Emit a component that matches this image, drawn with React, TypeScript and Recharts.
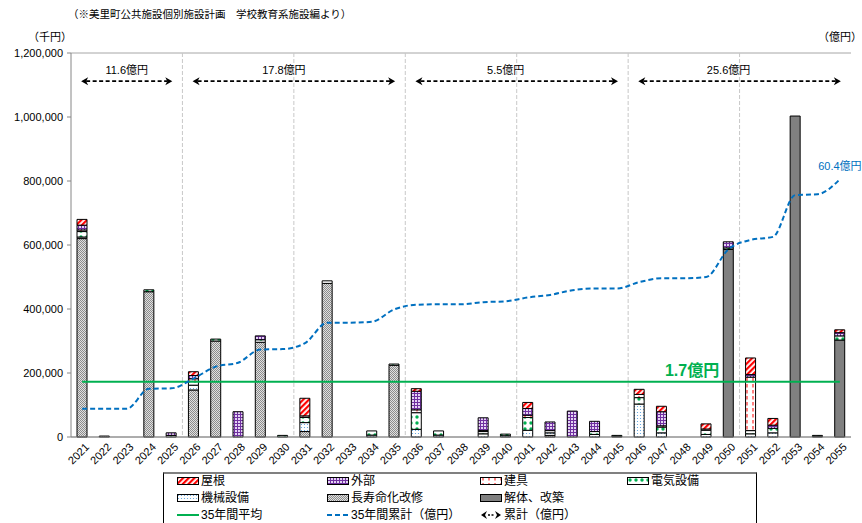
import React from 'react';
import { ComposedChart, Bar, Line, XAxis, YAxis, CartesianGrid, ReferenceLine, LabelList } from 'recharts';

const years = [
  '2021', '2022', '2023', '2024', '2025', '2026', '2027', '2028', '2029', '2030',
  '2031', '2032', '2033', '2034', '2035', '2036', '2037', '2038', '2039', '2040',
  '2041', '2042', '2043', '2044', '2045', '2046', '2047', '2048', '2049', '2050',
  '2051', '2052', '2053', '2054', '2055',
];

// 千円
const kaitai = [0, 0, 0, 0, 0, 0, 0, 0, 0, 0, 0, 0, 0, 0, 0, 0, 0, 0, 0, 0, 0, 0, 0, 0, 0, 0, 0, 0, 0, 586000, 0, 0, 1003000, 0, 303000];
const choju = [620000, 3000, 0, 454000, 0, 147000, 300000, 0, 296000, 0, 17000, 480000, 0, 0, 224000, 0, 0, 0, 0, 0, 0, 5000, 0, 0, 0, 0, 0, 0, 0, 0, 0, 0, 0, 0, 0];
const kikai = [5000, 0, 0, 0, 0, 15000, 0, 0, 0, 0, 28000, 0, 0, 6000, 0, 24000, 6000, 0, 10000, 4000, 21000, 8000, 0, 8000, 2000, 103000, 13000, 0, 8000, 0, 10000, 13000, 0, 2000, 0];
const denki = [17000, 0, 0, 6000, 5000, 12000, 6000, 0, 8000, 5000, 16000, 8000, 0, 13000, 4000, 52000, 13000, 0, 7000, 5000, 40000, 7000, 0, 9000, 3000, 20000, 18000, 0, 13000, 5000, 10000, 14000, 0, 3000, 13000];
const tategu = [5000, 0, 0, 0, 0, 8000, 0, 0, 0, 0, 5000, 0, 0, 0, 0, 9000, 0, 0, 3000, 0, 7000, 0, 0, 0, 0, 10000, 4000, 0, 4000, 0, 167000, 0, 0, 0, 0];
const gaibu = [15000, 0, 0, 0, 8000, 10000, 0, 79000, 12000, 0, 0, 0, 0, 0, 0, 58000, 0, 0, 40000, 0, 21000, 27000, 81000, 32000, 0, 0, 44000, 0, 0, 19000, 8000, 10000, 0, 0, 10000];
const yane = [18000, 0, 0, 0, 0, 12000, 0, 0, 0, 0, 55000, 0, 0, 0, 0, 8000, 0, 0, 0, 0, 19000, 0, 0, 0, 0, 16000, 17000, 0, 16000, 0, 52000, 21000, 0, 0, 9000];

// 億円
const cumulative = [6.6, 6.6, 6.6, 11.3, 11.4, 13.7, 16.5, 17.4, 20.5, 20.6, 22.0, 26.8, 26.8, 27.0, 29.9, 31.0, 31.1, 31.1, 31.6, 31.8, 32.7, 33.3, 34.4, 34.8, 34.8, 36.3, 37.2, 37.2, 37.5, 44.0, 46.2, 46.9, 56.7, 56.9, 60.4];

const average35 = 172600;
const averageLabel = '1.7億円';

const spans = [
  { from: '2021', to: '2025', label: '11.6億円' },
  { from: '2026', to: '2035', label: '17.8億円' },
  { from: '2036', to: '2045', label: '5.5億円' },
  { from: '2046', to: '2055', label: '25.6億円' },
];
const spanLabelShift = [0, -10, -11, -11];
const spanLevel = 1112000;

const leftTicks = [0, 200000, 400000, 600000, 800000, 1000000, 1200000];
const rightTicks = [0, 10, 20, 30, 40, 50, 60, 70, 80, 90];

const data = years.map((year, i) => ({
  year,
  kaitai: kaitai[i],
  choju: choju[i],
  kikai: kikai[i],
  denki: denki[i],
  tategu: tategu[i],
  gaibu: gaibu[i],
  yane: yane[i],
  cum: cumulative[i],
}));

const FONT = '"Liberation Sans", "Noto Sans CJK JP", sans-serif';
const GREEN = '#00B050';
const BLUE = '#0070C0';

function Patterns() {
  return (
    <svg width={0} height={0} style={{ position: 'absolute' }}>
      <defs>
        <pattern id="p-yane" width={4} height={4} patternUnits="userSpaceOnUse" patternTransform="rotate(45)">
          <rect width={4} height={4} fill="#fff" />
          <rect width={2.2} height={4} fill="#FF0000" />
        </pattern>
        <pattern id="p-gaibu" width={3} height={3} patternUnits="userSpaceOnUse">
          <rect width={3} height={3} fill="#E4D3F3" />
          <path d="M0 0.5H3M0.5 0V3" stroke="#7030A0" strokeWidth={1} />
        </pattern>
        <pattern id="p-tategu" width={6} height={6} patternUnits="userSpaceOnUse">
          <rect width={6} height={6} fill="#fff" />
          <path d="M3 0V3.5" stroke="#FF0000" strokeWidth={1} />
        </pattern>
        <pattern id="p-denki" width={6} height={6} patternUnits="userSpaceOnUse">
          <rect width={6} height={6} fill="#fff" />
          <circle cx={3} cy={3} r={1.7} fill={GREEN} />
        </pattern>
        <pattern id="p-kikai" width={3} height={3} patternUnits="userSpaceOnUse">
          <rect width={3} height={3} fill="#fff" />
          <circle cx={1.5} cy={1.5} r={0.6} fill="#4F9BDB" />
        </pattern>
        <pattern id="p-choju" width={2} height={2} patternUnits="userSpaceOnUse">
          <rect width={2} height={2} fill="#E0E0E0" />
          <rect width={1} height={1} fill="#8C8C8C" />
          <rect x={1} y={1} width={1} height={1} fill="#8C8C8C" />
        </pattern>
      </defs>
    </svg>
  );
}

function SpanArrow(props: any) {
  const { x1, x2, y1, label, shift } = props;
  const y = y1;
  const mid = (x1 + x2) / 2 + shift;
  return (
    <g>
      <line x1={x1 + 4} x2={x2 - 4} y1={y} y2={y} stroke="#000" strokeWidth={1.6} strokeDasharray="4 2.5" />
      <path d={`M${x1 - 1} ${y} L${x1 + 6} ${y - 4} L${x1 + 4} ${y} L${x1 + 6} ${y + 4} Z`} fill="#000" />
      <path d={`M${x2 + 1} ${y} L${x2 - 6} ${y - 4} L${x2 - 4} ${y} L${x2 - 6} ${y + 4} Z`} fill="#000" />
      <text x={mid} y={y - 7} textAnchor="middle" fontSize={11} fill="#000" fontFamily={FONT}>
        {label}
      </text>
    </g>
  );
}

function AverageLine(props: any) {
  const { x1, x2, y1 } = props;
  return (
    <g>
      <line x1={x1} x2={x2} y1={y1} y2={y1} stroke={GREEN} strokeWidth={2} />
      <text x={x1 + (x2 - x1) * 0.805} y={y1 - 6} textAnchor="middle" fontSize={16} fontWeight="bold" fill={GREEN} fontFamily={FONT}>
        {averageLabel}
      </text>
    </g>
  );
}

function YearTick(props: any) {
  const { x, y, payload } = props;
  return (
    <g transform={`translate(${x + 5},${y}) rotate(-45)`}>
      <text x={0} y={0} dy="0.35em" textAnchor="end" fontSize={11} fill="#000" fontFamily={FONT}>
        {payload.value}
      </text>
    </g>
  );
}

function Swatch({ fill, kind }: { fill?: string; kind: string }) {
  if (kind === 'avg') {
    return (
      <svg width={22} height={8}>
        <line x1={0} x2={22} y1={4} y2={4} stroke={GREEN} strokeWidth={2} />
      </svg>
    );
  }
  if (kind === 'cum') {
    return (
      <svg width={22} height={8}>
        <line x1={0} x2={22} y1={4} y2={4} stroke={BLUE} strokeWidth={2} strokeDasharray="5 3" />
      </svg>
    );
  }
  if (kind === 'arrow') {
    return (
      <svg width={22} height={10}>
        <path d="M1 5 L7 1 L5 5 L7 9 Z" fill="#000" />
        <path d="M21 5 L15 1 L17 5 L15 9 Z" fill="#000" />
        <line x1={8} x2={14} y1={5} y2={5} stroke="#000" strokeWidth={1.5} strokeDasharray="2 1.5" />
      </svg>
    );
  }
  return (
    <svg width={22} height={8}>
      <rect x={0.5} y={0.5} width={21} height={7} fill={fill} stroke="#000" strokeWidth={1} />
    </svg>
  );
}

const legendRows = [
  [
    { name: '屋根', kind: 'rect', fill: 'url(#p-yane)' },
    { name: '外部', kind: 'rect', fill: 'url(#p-gaibu)' },
    { name: '建具', kind: 'rect', fill: 'url(#p-tategu)' },
    { name: '電気設備', kind: 'rect', fill: 'url(#p-denki)' },
  ],
  [
    { name: '機械設備', kind: 'rect', fill: 'url(#p-kikai)' },
    { name: '長寿命化改修', kind: 'rect', fill: 'url(#p-choju)' },
    { name: '解体、改築', kind: 'rect', fill: '#808080' },
  ],
  [
    { name: '35年間平均', kind: 'avg' },
    { name: '35年間累計（億円）', kind: 'cum' },
    { name: '累計（億円）', kind: 'arrow' },
  ],
];
const legendCols = [13, 163, 316, 463];

function LegendBox() {
  return (
    <div
      style={{
        position: 'absolute',
        left: 163,
        top: 472,
        width: 594,
        height: 60,
        borderTop: '2px solid #808080',
        borderLeft: '1px solid #000',
        borderRight: '1px solid #000',
        boxSizing: 'border-box',
      }}
    >
      {legendRows.map((row, r) =>
        row.map((item, c) => (
          <div
            key={`${r}-${c}`}
            style={{
              position: 'absolute',
              left: legendCols[c],
              top: -1 + r * 17,
              height: 16,
              display: 'flex',
              alignItems: 'center',
              gap: 2,
              fontSize: 12,
              lineHeight: '14px',
              whiteSpace: 'nowrap',
              color: '#000',
            }}
          >
            <Swatch fill={(item as any).fill} kind={item.kind} />
            <span>{item.name}</span>
          </div>
        )),
      )}
    </div>
  );
}

export default function App() {
  const last = years.length - 1;
  return (
    <div
      style={{
        position: 'absolute',
        left: 0,
        top: 0,
        width: 862,
        height: 523,
        background: '#fff',
        fontFamily: FONT,
        overflow: 'hidden',
      }}
    >
      <Patterns />
      <div style={{ position: 'absolute', left: 68, top: 6, fontSize: 10.5, color: '#000', whiteSpace: 'nowrap' }}>
        （※美里町公共施設個別施設計画　学校教育系施設編より）
      </div>
      <div style={{ position: 'absolute', left: 28, top: 28, fontSize: 11, color: '#000' }}>（千円）</div>
      <div style={{ position: 'absolute', left: 818, top: 28, fontSize: 11, color: '#000' }}>（億円）</div>
      <ComposedChart
        width={862}
        height={523}
        data={data}
        margin={{ top: 53, right: 11, bottom: 56, left: 0 }}
        barCategoryGap={0}
      >
        <CartesianGrid vertical={false} stroke="#A6A6A6" />
        <CartesianGrid
          horizontal={false}
          stroke="#C8C8C8"
          strokeDasharray="4 2"
          verticalCoordinatesGenerator={({ offset }: any) =>
            [1, 2, 3, 4, 5, 6].map((k) => offset.left + (offset.width * k) / 7)
          }
        />
        <XAxis
          dataKey="year"
          interval={0}
          height={30}
          tickLine={false}
          axisLine={{ stroke: '#868686' }}
          tick={<YearTick />}
        />
        <YAxis
          yAxisId="left"
          width={71}
          domain={[0, 1200000]}
          ticks={leftTicks}
          tickFormatter={(v: number) => v.toLocaleString('en-US')}
          tick={{ fontSize: 11, fill: '#000', fontFamily: FONT }}
          tickSize={4}
          tickMargin={4}
          tickLine={{ stroke: '#868686' }}
          axisLine={{ stroke: '#868686' }}
        />
        <YAxis
          yAxisId="right"
          orientation="right"
          width={0}
          domain={[0, 90]}
          ticks={rightTicks}
          tick={false}
          tickSize={4}
          tickLine={{ stroke: '#868686' }}
          axisLine={{ stroke: '#868686' }}
        />
        <Bar yAxisId="left" dataKey="kaitai" stackId="a" fill="#808080" stroke="#000" strokeWidth={1} barSize={10} isAnimationActive={false} />
        <Bar yAxisId="left" dataKey="choju" stackId="a" fill="url(#p-choju)" stroke="#000" strokeWidth={1} barSize={10} isAnimationActive={false} />
        <Bar yAxisId="left" dataKey="kikai" stackId="a" fill="url(#p-kikai)" stroke="#000" strokeWidth={1} barSize={10} isAnimationActive={false} />
        <Bar yAxisId="left" dataKey="denki" stackId="a" fill="url(#p-denki)" stroke="#000" strokeWidth={1} barSize={10} isAnimationActive={false} />
        <Bar yAxisId="left" dataKey="tategu" stackId="a" fill="url(#p-tategu)" stroke="#000" strokeWidth={1} barSize={10} isAnimationActive={false} />
        <Bar yAxisId="left" dataKey="gaibu" stackId="a" fill="url(#p-gaibu)" stroke="#000" strokeWidth={1} barSize={10} isAnimationActive={false} />
        <Bar yAxisId="left" dataKey="yane" stackId="a" fill="url(#p-yane)" stroke="#000" strokeWidth={1} barSize={10} isAnimationActive={false} />
        <ReferenceLine
          yAxisId="left"
          segment={[{ x: years[0], y: average35 }, { x: years[last], y: average35 }]}
          shape={(p: any) => <AverageLine {...p} />}
        />
        <Line
          yAxisId="right"
          dataKey="cum"
          type="monotone"
          stroke={BLUE}
          strokeWidth={2}
          strokeDasharray="5 3"
          dot={false}
          isAnimationActive={false}
        >
          <LabelList
            dataKey="cum"
            content={(p: any) =>
              p.index === last ? (
                <text x={p.x} y={p.y - 9} textAnchor="middle" fontSize={11} fill={BLUE} fontFamily={FONT}>
                  {`${p.value}億円`}
                </text>
              ) : null
            }
          />
        </Line>
        {spans.map((s, i) => (
          <ReferenceLine
            key={s.label}
            yAxisId="left"
            segment={[{ x: s.from, y: spanLevel }, { x: s.to, y: spanLevel }]}
            shape={(p: any) => <SpanArrow {...p} label={s.label} shift={spanLabelShift[i]} />}
          />
        ))}
      </ComposedChart>
      <LegendBox />
    </div>
  );
}
